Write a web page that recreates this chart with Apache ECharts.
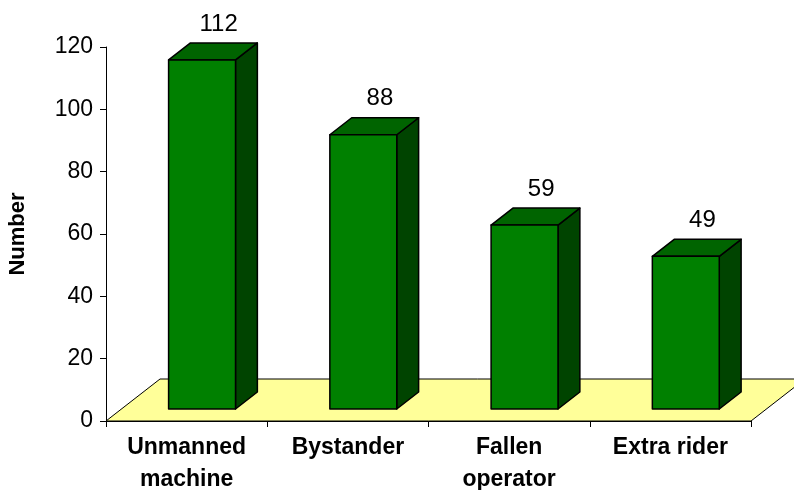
<!DOCTYPE html>
<html>
<head>
<meta charset="utf-8">
<script src="https://cdn.jsdelivr.net/npm/echarts@6/dist/echarts.min.js"></script>
<style>
  html, body { margin: 0; padding: 0; background: #fff; }
  #main { width: 794px; height: 490px; }
</style>
</head>
<body>
<div id="main"></div>
<script>
var chartDom = document.getElementById('main');
var myChart = echarts.init(chartDom);
var option;

// categories and counts
var categories = ['Unmanned\nmachine', 'Bystander', 'Fallen\noperator', 'Extra rider'];
var counts = [112, 88, 59, 49];
var yTicks = { min: 0, max: 120, interval: 20 };

// pseudo 3D depth of the floor (pixels)
var depthX = 54;
var depthY = 42;
var FONT = '"Liberation Sans", Arial, sans-serif';

function renderFloor(params, api) {
    var cs = params.coordSys;
    var y0 = api.coord([0, 0])[1];
    var x0 = cs.x;
    var x1 = cs.x + cs.width;
    return {
        type: 'polygon',
        shape: {
            points: [[x0, y0], [x0 + depthX, y0 - depthY], [x1 + depthX, y0 - depthY], [x1, y0]]
        },
        style: { fill: '#ffff99', stroke: '#000', lineWidth: 1 },
        z2: 0
    };
}

function renderBar(params, api) {
    var idx = api.value(0);
    var base = api.coord([idx, 0]);
    var top = api.coord([idx, api.value(1)]);
    var cw = api.size([1, 0])[0];
    var w = cw * 0.415;
    // bar sits in the middle of the floor depth
    var fy = 12, fx = fy * depthX / depthY;
    var by = 17, bx = by * depthX / depthY;
    var x0 = base[0] - w / 2 + fx;
    var x1 = x0 + w;
    var yb = base[1] - fy;
    var yt = top[1] - fy;
    var line = { stroke: '#000', lineWidth: 1.5, lineJoin: 'round' };
    return {
        type: 'group',
        children: [
            {
                type: 'polygon',
                shape: { points: [[x1, yt], [x1 + bx, yt - by], [x1 + bx, yb - by], [x1, yb]] },
                style: Object.assign({ fill: '#004400' }, line)
            },
            {
                type: 'polygon',
                shape: { points: [[x0, yt], [x0 + bx, yt - by], [x1 + bx, yt - by], [x1, yt]] },
                style: Object.assign({ fill: '#006400' }, line)
            },
            {
                type: 'rect',
                shape: { x: x0, y: yt, width: w, height: yb - yt },
                style: Object.assign({ fill: '#008000' }, line)
            },
            {
                type: 'text',
                x: base[0] + 32,
                y: yt - by - 7,
                style: {
                    text: String(api.value(1)),
                    fill: '#000',
                    font: '24px ' + FONT,
                    align: 'center',
                    verticalAlign: 'bottom'
                }
            }
        ]
    };
}

option = {
    animation: false,
    backgroundColor: '#fff',
    grid: { left: 106, right: 43, top: 47, bottom: 69, outerBoundsMode: 'none' },
    xAxis: {
        type: 'category',
        data: categories,
        axisLine: { lineStyle: { color: '#000', width: 1 } },
        axisTick: { show: true, length: 6, lineStyle: { color: '#000' } },
        axisLabel: {
            color: '#000',
            fontFamily: FONT,
            fontSize: 23,
            fontWeight: 'bold',
            lineHeight: 32,
            margin: 11,
            interval: 0
        },
        splitLine: { show: false }
    },
    yAxis: {
        type: 'value',
        min: yTicks.min,
        max: yTicks.max,
        interval: yTicks.interval,
        name: 'Number',
        nameLocation: 'middle',
        nameRotate: 90,
        nameGap: 77,
        nameTextStyle: {
            color: '#000',
            fontFamily: FONT,
            fontSize: 22,
            fontWeight: 'bold'
        },
        axisLine: { show: true, lineStyle: { color: '#000', width: 1 } },
        axisTick: { show: true, length: 6, lineStyle: { color: '#000' } },
        axisLabel: {
            color: '#000',
            fontFamily: FONT,
            fontSize: 23,
            margin: 13
        },
        splitLine: { show: false }
    },
    series: [
        {
            type: 'custom',
            name: 'floor',
            clip: false,
            z: 1,
            renderItem: renderFloor,
            data: [[0, 0]]
        },
        {
            type: 'custom',
            name: 'Number',
            clip: false,
            z: 3,
            renderItem: renderBar,
            encode: { x: 0, y: 1 },
            data: counts.map(function (v, i) { return [i, v]; })
        }
    ]
};

option && myChart.setOption(option);
</script>
</body>
</html>
